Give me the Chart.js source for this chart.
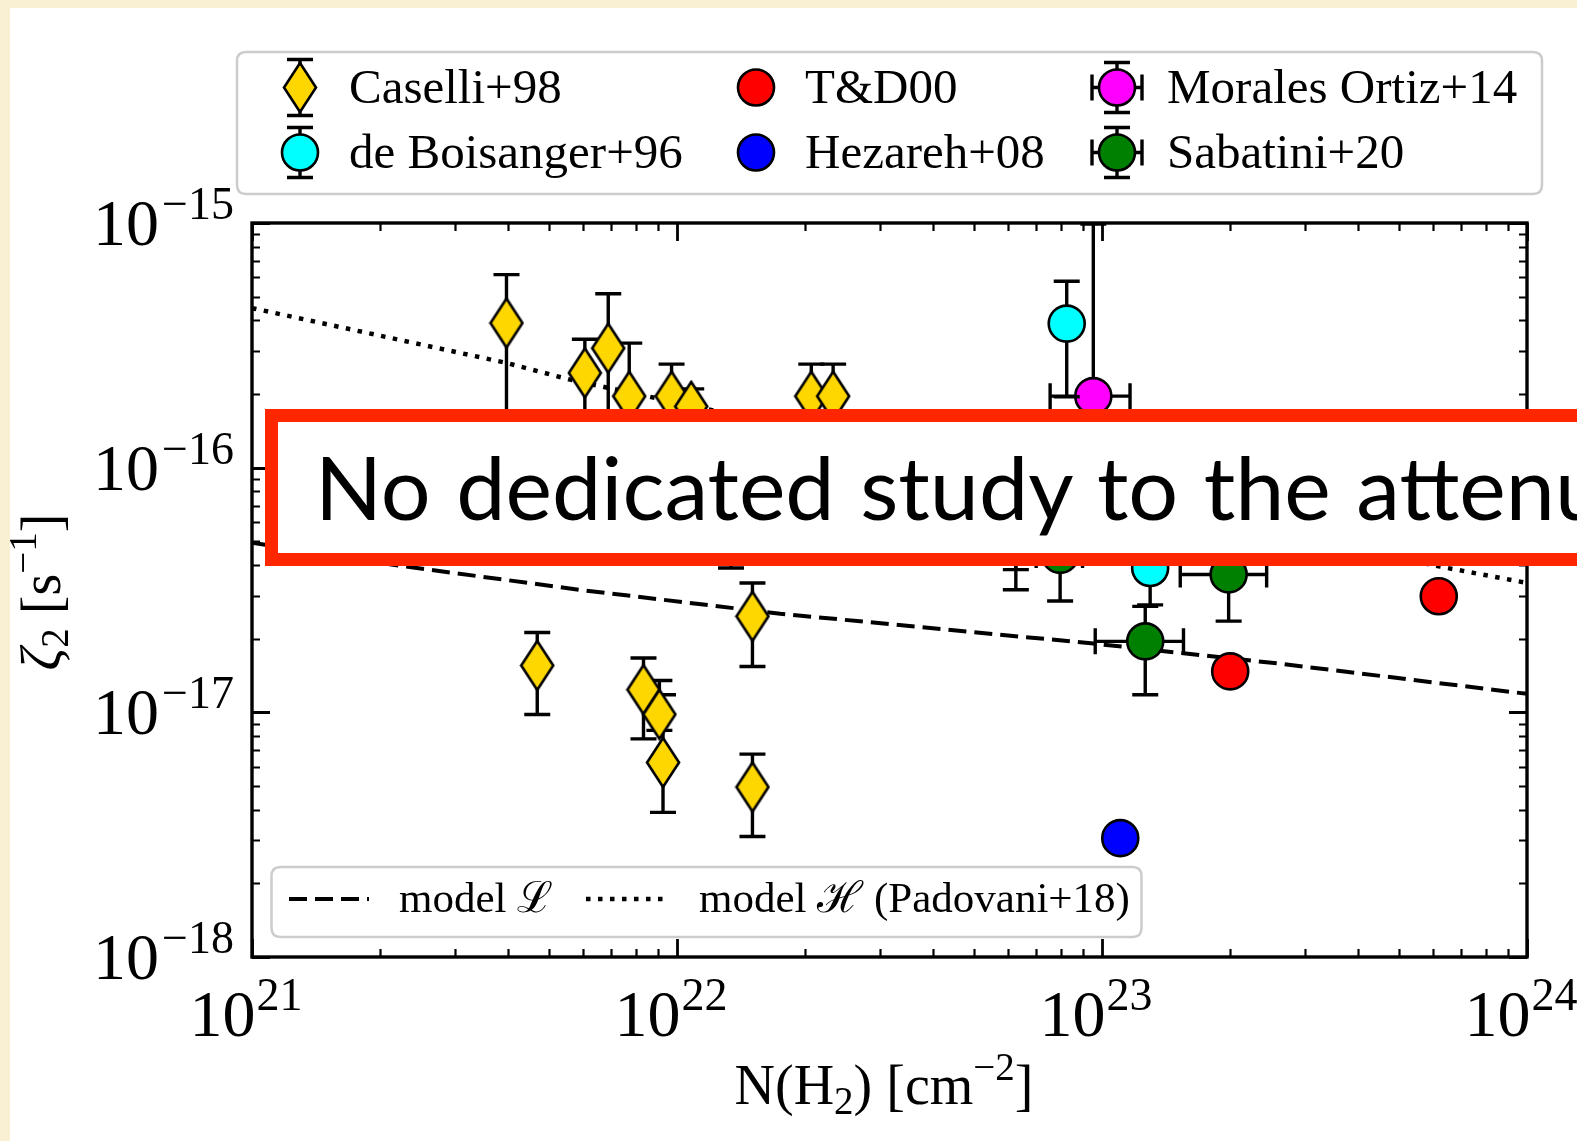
<!DOCTYPE html>
<html><head><meta charset="utf-8">
<script src="https://cdn.jsdelivr.net/npm/chart.js@4.4.1/dist/chart.umd.min.js"></script>
<style>
html,body{margin:0;padding:0;width:1577px;height:1141px;overflow:hidden;background:#f9efd2;}
#page{position:absolute;left:10px;top:8px;right:0;bottom:0;background:#ffffff;}
#c{position:absolute;left:0;top:0;width:1577px;height:1141px;}
#box{position:absolute;left:265px;top:409px;width:1500px;height:131px;border:13px solid #ff2600;background:#fff;}
#boxtext{position:absolute;left:315px;top:442px;font-family:'Gill Sans','Lato',sans-serif;font-size:88px;line-height:88px;color:#000;white-space:nowrap;word-spacing:3px;}
</style></head>
<body>
<div id="page"></div>
<canvas id="c" width="1577" height="1141"></canvas>
<div id="box"></div>
<div id="boxtext">No dedicated study to the attenuation</div>
<script>
// ---------- data ----------
const X_MAJOR = [1e21, 1e22, 1e23, 1e24];
const X_EXP = ['21', '22', '23', '24'];
const Y_MAJOR = [1e-18, 1e-17, 1e-16, 1e-15];
const Y_EXP = ['\u221218', '\u221217', '\u221216', '\u221215'];
const MINOR_MULT = [2, 3, 4, 5, 6, 7, 8, 9];

const caselliX   = [3.97e21, 6.07e21, 6.89e21, 7.72e21, 9.71e21, 1.08e22, 2.07e22, 2.33e22, 4.69e21, 8.34e21, 9.09e21, 9.27e21, 1.505e22, 1.505e22, 1.34e22];
const caselliY   = [3.90e-16, 2.44e-16, 3.08e-16, 1.96e-16, 1.96e-16, 1.78e-16, 1.96e-16, 1.96e-16, 1.554e-17, 1.238e-17, 9.81e-18, 6.24e-18, 2.47e-17, 4.95e-18, 7.0e-17];
const caselliYHi = [6.15e-16, 3.35e-16, 5.14e-16, 3.23e-16, 2.65e-16, 2.10e-16, 2.65e-16, 2.65e-16, 2.12e-17, 1.667e-17, 1.35e-17, 1.18e-17, 3.38e-17, 6.75e-18, 1.1e-16];
const caselliYLo = [1.0e-16, 1.5e-16, 1.6e-16, 1.2e-16, 1.4e-16, 1.4e-16, 1.4e-16, 1.4e-16, 9.8e-18, 7.79e-18, 8.44e-18, 3.90e-18, 1.54e-17, 3.11e-18, 3.89e-17];

const boisX   = [8.26e22, 1.298e23];
const boisY   = [3.88e-16, 3.89e-17];
const boisYHi = [5.78e-16, 5.2e-17];
const boisYLo = [1.95e-16, 2.75e-17];

const tdX = [2.003e23, 6.2e23];
const tdY = [1.47e-17, 2.98e-17];

const hezX = [1.104e23];
const hezY = [3.06e-18];

const moralesX   = [9.54e22];
const moralesY   = [1.96e-16];
const moralesYHi = [9.9e-16];
const moralesYLo = [1.2e-16];
const moralesXLo = [7.55e22];
const moralesXHi = [1.164e23];

const sabX   = [1.264e23, 1.986e23, 7.97e22, 6.27e22, 6.27e22];
const sabY   = [1.95e-17, 3.66e-17, 4.4e-17, 6.0e-17, 5.5e-17];
const sabYHi = [2.71e-17, 5.0e-17, 5.5e-17, 8.0e-17, 7.0e-17];
const sabYLo = [1.18e-17, 2.36e-17, 2.85e-17, 3.17e-17, 3.83e-17];
const sabXLo = [9.64e22, 1.528e23, 7.0e22, 5.6e22, 5.6e22];
const sabXHi = [1.555e23, 2.44e23, 9.0e22, 7.0e22, 7.0e22];

const modelLX = [1e21, 2.145e21, 5.88e21, 1.75e22, 9.55e22, 2.63e23, 1e24];
const modelLY = [4.93e-17, 4.01e-17, 3.17e-17, 2.53e-17, 1.91e-17, 1.58e-17, 1.19e-17];
const modelHX = [1e21, 3.97e21, 5.6e21, 6.25e23, 1e24];
const modelHY = [4.49e-16, 2.68e-16, 2.29e-16, 3.94e-17, 3.38e-17];

const LABELS = ['Caselli+98', 'de Boisanger+96', 'T&D00', 'Hezareh+08', 'Morales Ortiz+14', 'Sabatini+20'];
const LINE_LABELS = ['model \u2112', 'model \u210B (Padovani+18)'];

// ---------- styles ----------
const SERIF = '"Liberation Serif", "DejaVu Serif", serif';
const GOLD = '#ffd700', CYAN = '#00ffff', RED = '#ff0000', BLUE = '#0000ff', MAG = '#ff00ff', GREEN = '#008000';
const R = 18, MLW = 2.6, ELW = 3.4, CAP = 13;

function makeDiamond(w, h, fill) {
  const c = document.createElement('canvas');
  c.width = w + 4; c.height = h + 4;
  const g = c.getContext('2d');
  g.beginPath();
  g.moveTo(c.width / 2, 2); g.lineTo(c.width - 2, c.height / 2);
  g.lineTo(c.width / 2, c.height - 2); g.lineTo(2, c.height / 2); g.closePath();
  g.fillStyle = fill; g.fill();
  g.lineWidth = MLW; g.strokeStyle = '#000'; g.stroke();
  return c;
}
const DIAMOND = makeDiamond(32, 49, GOLD);

function pts(xs, ys) { return xs.map((x, i) => ({ x: x, y: ys[i] })); }

const errs = [
  { yLo: caselliYLo, yHi: caselliYHi },
  { yLo: boisYLo, yHi: boisYHi },
  null, null,
  { yLo: moralesYLo, yHi: moralesYHi, xLo: moralesXLo, xHi: moralesXHi },
  { yLo: sabYLo, yHi: sabYHi, xLo: sabXLo, xHi: sabXHi }
];

const circ = (col) => ({ pointStyle: 'circle', radius: R, backgroundColor: col, borderColor: '#000', borderWidth: MLW, order: 1 });
const datasets = [
  Object.assign({ label: LABELS[0], data: pts(caselliX, caselliY), pointStyle: DIAMOND, radius: R, order: 1 }),
  Object.assign({ label: LABELS[1], data: pts(boisX, boisY) }, circ(CYAN)),
  Object.assign({ label: LABELS[2], data: pts(tdX, tdY) }, circ(RED)),
  Object.assign({ label: LABELS[3], data: pts(hezX, hezY) }, circ(BLUE)),
  Object.assign({ label: LABELS[4], data: pts(moralesX, moralesY) }, circ(MAG)),
  Object.assign({ label: LABELS[5], data: pts(sabX, sabY) }, circ(GREEN)),
  { label: LINE_LABELS[0], data: pts(modelLX, modelLY), showLine: true, pointRadius: 0, borderColor: '#000', borderWidth: 4, borderDash: [18, 8], fill: false, order: 10 },
  { label: LINE_LABELS[1], data: pts(modelHX, modelHY), showLine: true, pointRadius: 0, borderColor: '#000', borderWidth: 4.5, borderDash: [4.5, 7.5], fill: false, order: 10 }
];

function vbar(ctx, x, y1, y2) {
  ctx.beginPath(); ctx.moveTo(x, y1); ctx.lineTo(x, y2);
  ctx.moveTo(x - CAP, y1); ctx.lineTo(x + CAP, y1);
  ctx.moveTo(x - CAP, y2); ctx.lineTo(x + CAP, y2); ctx.stroke();
}
function hbar(ctx, y, x1, x2) {
  ctx.beginPath(); ctx.moveTo(x1, y); ctx.lineTo(x2, y);
  ctx.moveTo(x1, y - CAP); ctx.lineTo(x1, y + CAP);
  ctx.moveTo(x2, y - CAP); ctx.lineTo(x2, y + CAP); ctx.stroke();
}

function rich(ctx, parts, x, y, align) {
  let w = 0;
  parts.forEach(p => { ctx.font = (p.it ? 'italic ' : '') + p.s + 'px ' + SERIF; p.w = ctx.measureText(p.t).width; w += p.w + (p.gap || 0); });
  let cx = align === 'right' ? x - w : (align === 'center' ? x - w / 2 : x);
  ctx.textAlign = 'left'; ctx.textBaseline = 'alphabetic';
  parts.forEach(p => { ctx.font = (p.it ? 'italic ' : '') + p.s + 'px ' + SERIF; ctx.fillText(p.t, cx, y + (p.dy || 0)); cx += p.w + (p.gap || 0); });
}

function circleMarker(ctx, x, y, col) {
  ctx.beginPath(); ctx.arc(x, y, R, 0, Math.PI * 2);
  ctx.fillStyle = col; ctx.fill(); ctx.lineWidth = MLW; ctx.strokeStyle = '#000'; ctx.stroke();
}

function roundRect(ctx, x, y, w, h, r) {
  ctx.beginPath();
  ctx.moveTo(x + r, y); ctx.lineTo(x + w - r, y); ctx.quadraticCurveTo(x + w, y, x + w, y + r);
  ctx.lineTo(x + w, y + h - r); ctx.quadraticCurveTo(x + w, y + h, x + w - r, y + h);
  ctx.lineTo(x + r, y + h); ctx.quadraticCurveTo(x, y + h, x, y + h - r);
  ctx.lineTo(x, y + r); ctx.quadraticCurveTo(x, y, x + r, y); ctx.closePath();
}

const custom = {
  id: 'custom',
  beforeDatasetDraw(chart, args) {
    const e = errs[args.index];
    if (!e) return;
    const xs = chart.scales.x, ys = chart.scales.y, a = chart.chartArea, ctx = chart.ctx;
    const d = chart.data.datasets[args.index].data;
    ctx.save();
    ctx.beginPath(); ctx.rect(a.left, a.top - 2, a.right - a.left, a.bottom - a.top + 2); ctx.clip();
    ctx.strokeStyle = '#000'; ctx.lineWidth = ELW; ctx.lineCap = 'butt';
    d.forEach((p, i) => {
      const px = xs.getPixelForValue(p.x), py = ys.getPixelForValue(p.y);
      if (e.yLo) vbar(ctx, px, ys.getPixelForValue(e.yHi[i]), ys.getPixelForValue(e.yLo[i]));
      if (e.xLo) hbar(ctx, py, xs.getPixelForValue(e.xLo[i]), xs.getPixelForValue(e.xHi[i]));
    });
    ctx.restore();
  },
  afterDatasetsDraw(chart) {
    const xs = chart.scales.x, ys = chart.scales.y, a = chart.chartArea, ctx = chart.ctx;
    ctx.save();
    ctx.strokeStyle = '#000';
    const MAJ = 18, MIN = 8;
    const drawX = (v, len, lw) => {
      const px = Math.round(xs.getPixelForValue(v)) + 0.5;
      ctx.lineWidth = lw; ctx.beginPath();
      ctx.moveTo(px, a.bottom); ctx.lineTo(px, a.bottom - len);
      ctx.moveTo(px, a.top); ctx.lineTo(px, a.top + len); ctx.stroke();
    };
    const drawY = (v, len, lw) => {
      const py = Math.round(ys.getPixelForValue(v)) + 0.5;
      ctx.lineWidth = lw; ctx.beginPath();
      ctx.moveTo(a.left, py); ctx.lineTo(a.left + len, py);
      ctx.moveTo(a.right, py); ctx.lineTo(a.right - len, py); ctx.stroke();
    };
    X_MAJOR.forEach((v, i) => { drawX(v, MAJ, 2.8); if (i < X_MAJOR.length - 1) MINOR_MULT.forEach(m => drawX(v * m, MIN, 2.2)); });
    Y_MAJOR.forEach((v, i) => { drawY(v, MAJ, 2.8); if (i < Y_MAJOR.length - 1) MINOR_MULT.forEach(m => drawY(v * m, MIN, 2.2)); });
    ctx.lineWidth = 3.4;
    ctx.strokeRect(a.left, a.top, a.right - a.left, a.bottom - a.top);
    ctx.restore();
  },
  afterDraw(chart) {
    const xs = chart.scales.x, ys = chart.scales.y, a = chart.chartArea, ctx = chart.ctx;
    ctx.save();
    ctx.fillStyle = '#000';
    Y_MAJOR.forEach((v, i) => {
      const py = ys.getPixelForValue(v);
      rich(ctx, [{ t: '10', s: 66, gap: 3 }, { t: Y_EXP[i], s: 46, dy: -26 }], a.left - 18, py + 22, 'right');
    });
    X_MAJOR.forEach((v, i) => {
      const px = xs.getPixelForValue(v);
      rich(ctx, [{ t: '10', s: 66, gap: 1 }, { t: X_EXP[i], s: 46, dy: -26 }], px - 6, 1036, 'center');
    });
    rich(ctx, [{ t: 'N(H', s: 56 }, { t: '2', s: 39, dy: 10 }, { t: ') [cm', s: 56 }, { t: '\u22122', s: 39, dy: -24 }, { t: ']', s: 56 }], 884, 1104, 'center');
    ctx.save();
    ctx.translate(60, 592); ctx.rotate(-Math.PI / 2);
    rich(ctx, [{ t: '\u03B6', s: 56, it: true }, { t: '2', s: 39, dy: 8, gap: 14 }, { t: '[s', s: 56 }, { t: '\u22121', s: 39, dy: -24 }, { t: ']', s: 56 }], 0, 0, 'center');
    ctx.restore();

    // top legend
    roundRect(ctx, 237, 52, 1305, 142, 9);
    ctx.fillStyle = '#fff'; ctx.fill(); ctx.lineWidth = 2.5; ctx.strokeStyle = '#cccccc'; ctx.stroke();
    ctx.strokeStyle = '#000'; ctx.lineWidth = ELW;
    const r1 = 87.5, r2 = 152.5, c1 = 300, c2 = 756, c3 = 1117;
    vbar(ctx, c1, r1 - 28, r1 + 28);
    ctx.drawImage(DIAMOND, c1 - DIAMOND.width / 2, r1 - DIAMOND.height / 2);
    vbar(ctx, c1, r2 - 25, r2 + 25); circleMarker(ctx, c1, r2, CYAN);
    circleMarker(ctx, c2, r1, RED);
    circleMarker(ctx, c2, r2, BLUE);
    ctx.strokeStyle = '#000'; ctx.lineWidth = ELW;
    vbar(ctx, c3, r1 - 25, r1 + 25); hbar(ctx, r1, c3 - 25, c3 + 25); circleMarker(ctx, c3, r1, MAG);
    ctx.strokeStyle = '#000'; ctx.lineWidth = ELW;
    vbar(ctx, c3, r2 - 25, r2 + 25); hbar(ctx, r2, c3 - 25, c3 + 25); circleMarker(ctx, c3, r2, GREEN);
    ctx.fillStyle = '#000';
    ctx.font = '49px ' + SERIF; ctx.textAlign = 'left'; ctx.textBaseline = 'alphabetic';
    ctx.fillText(LABELS[0], 349, 103);
    ctx.fillText(LABELS[1], 349, 168);
    ctx.fillText(LABELS[2], 805, 103);
    ctx.fillText(LABELS[3], 805, 168);
    ctx.fillText(LABELS[4], 1167, 103);
    ctx.fillText(LABELS[5], 1167, 168);

    // bottom legend
    roundRect(ctx, 271.5, 867, 870, 70, 9);
    ctx.fillStyle = '#fff'; ctx.fill(); ctx.lineWidth = 2.5; ctx.strokeStyle = '#cccccc'; ctx.stroke();
    ctx.strokeStyle = '#000';
    ctx.lineWidth = 4; ctx.setLineDash([18, 8]);
    ctx.beginPath(); ctx.moveTo(289, 899); ctx.lineTo(369, 899); ctx.stroke();
    ctx.lineWidth = 4.5; ctx.setLineDash([4.5, 7.5]);
    ctx.beginPath(); ctx.moveTo(586, 899); ctx.lineTo(666, 899); ctx.stroke();
    ctx.setLineDash([]);
    ctx.fillStyle = '#000'; ctx.font = '43px ' + SERIF;
    ctx.fillText(LINE_LABELS[0], 399, 912);
    ctx.fillText(LINE_LABELS[1], 699, 912);
    ctx.restore();
  }
};

new Chart(document.getElementById('c').getContext('2d'), {
  type: 'scatter',
  data: { datasets: datasets },
  options: {
    responsive: false, animation: false, devicePixelRatio: 1, events: [],
    layout: { padding: { left: 252, top: 223, right: 50, bottom: 184 } },
    plugins: { legend: { display: false }, tooltip: { enabled: false } },
    scales: {
      x: { type: 'logarithmic', min: 1e21, max: 1e24, display: false },
      y: { type: 'logarithmic', min: 1e-18, max: 1e-15, display: false }
    }
  },
  plugins: [custom]
});
</script>
</body></html>
